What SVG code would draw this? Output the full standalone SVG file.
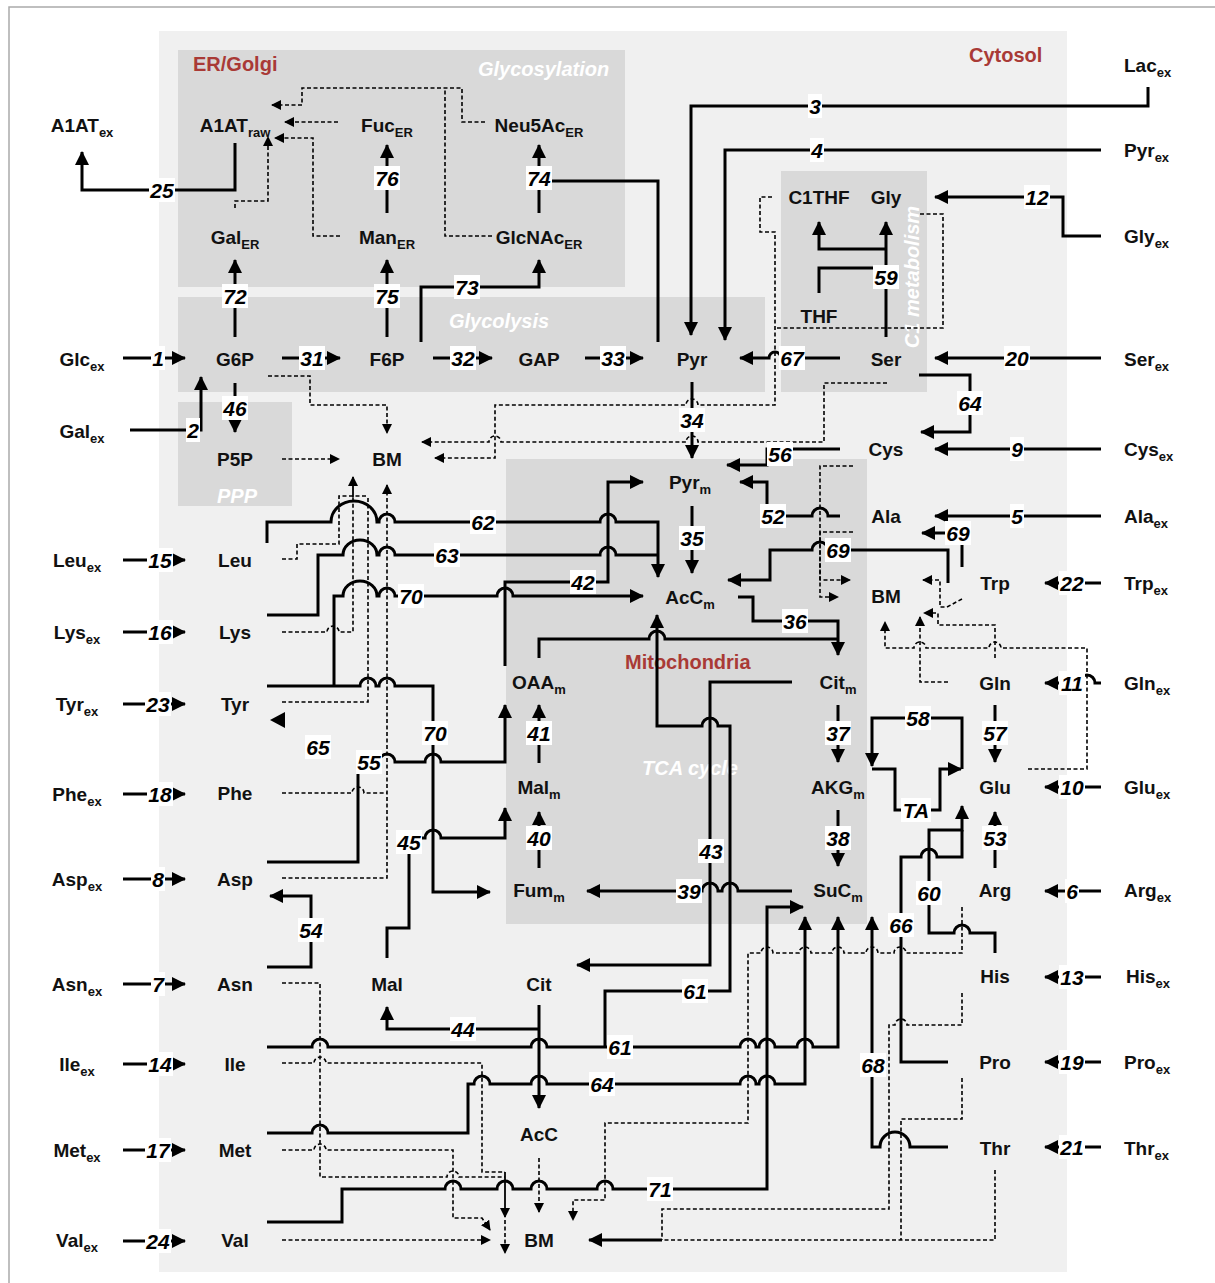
<svg xmlns="http://www.w3.org/2000/svg" width="1215" height="1283" viewBox="0 0 1215 1283">
<style>
.n{font-family:"Liberation Sans",Arial,sans-serif;font-weight:bold;font-size:19px;text-anchor:middle;fill:#111}
.r{text-anchor:start}
.s{font-size:13px}
.t{font-family:"Liberation Sans",Arial,sans-serif;font-weight:bold;font-style:italic;font-size:21px;text-anchor:middle;fill:#000}
.cm{font-family:"Liberation Sans",Arial,sans-serif;font-weight:bold;font-size:20px;fill:#a93a36}
.w{font-family:"Liberation Sans",Arial,sans-serif;font-weight:bold;font-style:italic;font-size:20px;fill:#fff}
.c{fill:none;stroke:#000;stroke-width:3}
.d{fill:none;stroke:#000;stroke-width:1.6;stroke-dasharray:4 2.5}
.th{fill:none;stroke:#000;stroke-width:1.8}
.lb rect{fill:#fff}
</style>
<defs>
<marker id="a" viewBox="0 0 14 14" refX="13" refY="7" markerWidth="14" markerHeight="14" markerUnits="userSpaceOnUse" orient="auto"><path d="M0,0 L14,7 L0,14 z" fill="#000"/></marker>
<marker id="b" viewBox="0 0 10 10" refX="9" refY="5" markerWidth="10" markerHeight="10" markerUnits="userSpaceOnUse" orient="auto"><path d="M0,0 L10,5 L0,10 z" fill="#000"/></marker>
</defs>
<rect x="0" y="0" width="1215" height="1283" fill="#fff"/>
<rect x="9" y="7" width="1230" height="1300" fill="none" stroke="#aaa" stroke-width="1.5"/>
<g id="compartments">
<rect x="159" y="31" width="908" height="1241" fill="#f0f0f0"/>
<rect x="178" y="50" width="447" height="237" fill="#d9d9d9"/>
<rect x="178" y="297" width="587" height="95" fill="#d9d9d9"/>
<rect x="178" y="402" width="114" height="104" fill="#d9d9d9"/>
<rect x="781" y="171" width="146" height="221" fill="#d9d9d9"/>
<rect x="506" y="459" width="361" height="465" fill="#d9d9d9"/>
<text class="cm" x="193" y="71">ER/Golgi</text>
<text class="cm" x="969" y="62">Cytosol</text>
<text class="cm" x="625" y="669">Mitochondria</text>
<text class="w" x="478" y="76">Glycosylation</text>
<text class="w" x="449" y="328">Glycolysis</text>
<text class="w" x="217" y="503">PPP</text>
<text class="w" x="642" y="775">TCA cycle</text>
<text class="w" x="0" y="0" text-anchor="middle" transform="translate(919 277) rotate(-90)">C1 metabolism</text>
</g>
<g id="connectors">
<!-- solid -->
<path class="c" marker-end="url(#a)" d="M123 358 H185"/>
<path class="c" marker-end="url(#a)" d="M130 430 H201 V377"/>
<path class="c" marker-end="url(#a)" d="M235 143 V190 H82 V152"/>
<path class="c" marker-end="url(#a)" d="M235 337 V260"/>
<path class="c" marker-end="url(#a)" d="M387 337 V260"/>
<path class="c" marker-end="url(#a)" d="M387 213 V145"/>
<path class="c" marker-end="url(#a)" d="M539 213 V145"/>
<path class="c" d="M658 342 V181 H539"/>
<path class="c" marker-end="url(#a)" d="M421 342 V287 H539 V260"/>
<path class="c" marker-end="url(#a)" d="M282 358 H340"/>
<path class="c" marker-end="url(#a)" d="M433 358 H492"/>
<path class="c" marker-end="url(#a)" d="M585 358 H643"/>
<path class="c" marker-end="url(#a)" d="M235 383 V432"/>
<path class="c" marker-end="url(#a)" d="M1148 87 V106 H691 V335"/>
<path class="c" marker-end="url(#a)" d="M1101 150 H725 V340"/>
<path class="c" marker-end="url(#a)" d="M1101 236 H1063 V197 H935"/>
<path class="c" marker-end="url(#a)" d="M886 337 V222"/>
<path class="c" marker-end="url(#a)" d="M886 249 H819 V222"/>
<path class="c" d="M819 293 V268 H886"/>
<path class="c" marker-end="url(#a)" d="M1101 358 H935"/>
<path class="c" marker-end="url(#a)" d="M840 358 H781 a6,6 0 0 0 -12,0 H740"/>
<path class="c" marker-end="url(#a)" d="M692 382 V458"/>
<path class="c" marker-end="url(#a)" d="M919 375 H970 V432 H921"/>
<path class="c" marker-end="url(#a)" d="M1101 449 H935"/>
<path class="c" marker-end="url(#a)" d="M840 449 H767 V465 H727"/>
<path class="c" marker-end="url(#a)" d="M840 516 H828 a8,8 0 0 0 -16,0 H767 V482 H740"/>
<path class="c" marker-end="url(#a)" d="M1101 516 H935"/>
<path class="c" marker-end="url(#a)" d="M962 567 V533 H922"/>
<path class="c" marker-end="url(#a)" d="M948 583 V550 H828 a8,8 0 0 0 -16,0 H770 V580 H728"/>
<path class="c" marker-end="url(#a)" d="M1101 583 H1045"/>
<path class="c" marker-end="url(#a)" d="M692 506 V573"/>
<path class="c" marker-end="url(#a)" d="M267 543 V522 H331 a23,21 0 0 1 46,0 H379 a8,8 0 0 1 16,0 H600 a8,8 0 0 1 16,0 H658 V577"/>
<path class="c" d="M267 615 H318 V555 H343 a17,15 0 0 1 34,0 H379 a8,8 0 0 1 16,0 H600 a8,8 0 0 1 16,0 H658"/>
<path class="c" marker-end="url(#a)" d="M267 686 H360 a8,8 0 0 1 16,0 H379 a8,8 0 0 1 16,0 H433 V892 H490"/>
<path class="c" marker-end="url(#a)" d="M334 686 V596 H343 a17,15 0 0 1 34,0 H379 a8,8 0 0 1 16,0 H497 a8,8 0 0 1 16,0 H643"/>
<path class="c" marker-end="url(#a)" d="M505 666 V582 H608 V482 H643"/>
<path class="c" marker-end="url(#a)" d="M738 597 H753 V621 H838 V655"/>
<path class="c" d="M539 658 V639 H649 a8,8 0 0 1 16,0 H838"/>
<path class="c" marker-end="url(#a)" d="M267 1047 H312 a8,8 0 0 1 16,0 H531 a8,8 0 0 1 16,0 H740 a8,8 0 0 1 16,0 H759 a8,8 0 0 1 16,0 H797 a8,8 0 0 1 16,0 H838 V917"/>
<path class="c" marker-end="url(#a)" d="M605 1047 V991 H730 V726 H718 a8,8 0 0 0 -16,0 H657 V615"/>
<path class="c" marker-end="url(#a)" d="M792 682 H710 V965 H577"/>
<path class="c" marker-end="url(#a)" d="M838 705 V762"/>
<path class="c" marker-end="url(#a)" d="M838 810 V866"/>
<path class="c" marker-end="url(#a)" d="M792 891 H738 a8,8 0 0 0 -16,0 H718 a8,8 0 0 0 -16,0 H587"/>
<path class="c" marker-end="url(#a)" d="M539 868 V812"/>
<path class="c" marker-end="url(#a)" d="M539 763 V705"/>
<path class="c" marker-end="url(#a)" d="M267 862 H358 V762 H379 a8,8 0 0 1 16,0 H425 a8,8 0 0 1 16,0 H505 V705"/>
<path class="c" marker-end="url(#a)" d="M387 958 V928 H409 V838 H425 a8,8 0 0 1 16,0 H505 V808"/>
<path class="c" marker-end="url(#a)" d="M267 967 H311 V896 H270"/>
<path class="c" marker-end="url(#a)" d="M539 1029 H387 V1007"/>
<path class="c" marker-end="url(#a)" d="M539 1005 V1108"/>
<path class="c" marker-end="url(#a)" d="M267 1133 H312 a8,8 0 0 1 16,0 H468 V1084 H474 a8,8 0 0 1 16,0 H531 a8,8 0 0 1 16,0 H740 a8,8 0 0 1 16,0 H759 a8,8 0 0 1 16,0 H805 V917"/>
<path class="c" marker-end="url(#a)" d="M267 1222 H342 V1189 H445 a8,8 0 0 1 16,0 H497 a8,8 0 0 1 16,0 H531 a8,8 0 0 1 16,0 H597 a8,8 0 0 1 16,0 H767 V907 H803"/>
<path class="c" marker-end="url(#a)" d="M948 1147 H910 a15,15 0 0 0 -30,0 H872 V917"/>
<path class="c" d="M948 1062 H901 V857 H921 a8,8 0 0 1 16,0 H962 V830"/>
<path class="c" marker-end="url(#a)" d="M995 953 V933 H970 a8,8 0 0 0 -16,0 H929 V830 H962 V806"/>
<path class="c" marker-end="url(#a)" d="M995 868 V812"/>
<path class="c" marker-end="url(#a)" d="M995 705 V762"/>
<path class="c" marker-end="url(#a)" d="M962 769 V718 H872 V766"/>
<path class="c" marker-end="url(#a)" d="M872 769 H895 V810 H940 V769 H961"/>
<path class="c" marker-end="url(#a)" d="M1101 787 H1045"/>
<path class="c" marker-end="url(#a)" d="M1101 683 H1095 a8,8 0 0 0 -16,0 H1045"/>
<path class="c" marker-end="url(#a)" d="M1101 891 H1045"/>
<path class="c" marker-end="url(#a)" d="M1101 977 H1045"/>
<path class="c" marker-end="url(#a)" d="M1101 1062 H1045"/>
<path class="c" marker-end="url(#a)" d="M1101 1147 H1045"/>
<path class="c" marker-end="url(#a)" d="M123 560 H185"/>
<path class="c" marker-end="url(#a)" d="M123 632 H185"/>
<path class="c" marker-end="url(#a)" d="M123 704 H185"/>
<path class="c" marker-end="url(#a)" d="M123 794 H185"/>
<path class="c" marker-end="url(#a)" d="M123 879 H185"/>
<path class="c" marker-end="url(#a)" d="M123 984 H185"/>
<path class="c" marker-end="url(#a)" d="M123 1064 H185"/>
<path class="c" marker-end="url(#a)" d="M123 1150 H185"/>
<path class="c" marker-end="url(#a)" d="M123 1241 H185"/>
<path d="M270 720 L285 712 L285 728 z" fill="#000"/>
<path class="c" marker-end="url(#a)" d="M662 1240 H589"/>
<!-- dashed -->
<path class="d" marker-end="url(#b)" d="M235 208 V201 H268 V137"/>
<path class="d" marker-end="url(#b)" d="M340 236 H313 V138 H275"/>
<path class="d" marker-end="url(#b)" d="M338 122 H285"/>
<path class="d" marker-end="url(#b)" d="M485 122 H462 V88 H302 V105 H272"/>
<path class="d" d="M492 236 H445 V88"/>
<path class="d" marker-end="url(#b)" d="M268 376 H310 V405 H387 V433"/>
<path class="d" marker-end="url(#b)" d="M282 459 H339"/>
<path class="d" marker-end="url(#b)" d="M772 197 H760 V232 H775 V405 H698 a6,6 0 0 0 -12,0 H495 V458 H435"/>
<path class="d" d="M920 214 H943 V328 H775"/>
<path class="d" marker-end="url(#b)" d="M887 383 H824 V442 H698 a6,6 0 0 0 -12,0 H501 a6,6 0 0 0 -12,0 H422"/>
<path class="d" d="M282 559 H297 V544 H339 V496 H368"/>
<path class="d" d="M282 632 H327 a6,6 0 0 1 12,0 H353 V496"/>
<path class="d" d="M282 702 H368 V496"/>
<path class="th" marker-end="url(#b)" d="M353 497 V477"/>
<path class="d" d="M282 793 H352 a6,6 0 0 1 12,0 H387"/>
<path class="d" marker-end="url(#b)" d="M282 878 H387 V485"/>
<path class="d" marker-end="url(#b)" d="M853 466 H820 V597 H838"/>
<path class="d" marker-end="url(#b)" d="M853 532 H820 V580 H850"/>
<path class="d" marker-end="url(#b)" d="M962 599 L947 607 H940 V580 H923"/>
<path class="d" marker-end="url(#b)" d="M948 682 H920 V617"/>
<path class="d" marker-end="url(#b)" d="M995 658 V625 H938 V613 H924"/>
<path class="d" marker-end="url(#b)" d="M1028 769 H1087 V648 H1001 a6,6 0 0 0 -12,0 H926 a6,6 0 0 0 -12,0 H885 V622"/>
<path class="d" marker-end="url(#b)" d="M962 907 V953 H906 a6,6 0 0 0 -12,0 H878 a6,6 0 0 0 -12,0 H844 a6,6 0 0 0 -12,0 H811 a6,6 0 0 0 -12,0 H773 a6,6 0 0 0 -12,0 H748 V1123 H605 V1200 H573 V1220"/>
<path class="d" d="M962 993 V1025 H907 a6,6 0 0 0 -12,0 H889 V1209 H662 V1240"/>
<path class="d" d="M962 1078 V1119 H901 V1240"/>
<path class="d" d="M995 1170 V1240 H662"/>
<path class="d" d="M282 983 H320 V1177 H447 a6,6 0 0 1 12,0 H505"/>
<path class="d" d="M282 1063 H314 a6,6 0 0 1 12,0 H482 V1172 H505"/>
<path class="d" marker-end="url(#b)" d="M282 1150 H314 a6,6 0 0 1 12,0 H453 V1218 H482 L490 1230"/>
<path class="d" marker-end="url(#b)" d="M282 1240 H490"/>
<path class="th" marker-end="url(#b)" d="M505 1172 V1217"/>
<path class="d" marker-end="url(#b)" d="M505 1220 V1253"/>
<path class="d" marker-end="url(#b)" d="M539 1158 V1212"/>
</g>
<g id="labels" class="lb">
<rect x="151" y="346" width="14" height="24"/><text class="t" x="158" y="366">1</text>
<rect x="186" y="418" width="14" height="24"/><text class="t" x="193" y="438">2</text>
<rect x="149" y="178" width="26" height="24"/><text class="t" x="162" y="198">25</text>
<rect x="222" y="284" width="26" height="24"/><text class="t" x="235" y="304">72</text>
<rect x="374" y="284" width="26" height="24"/><text class="t" x="387" y="304">75</text>
<rect x="374" y="166" width="26" height="24"/><text class="t" x="387" y="186">76</text>
<rect x="526" y="166" width="26" height="24"/><text class="t" x="539" y="186">74</text>
<rect x="454" y="275" width="26" height="24"/><text class="t" x="467" y="295">73</text>
<rect x="299" y="346" width="26" height="24"/><text class="t" x="312" y="366">31</text>
<rect x="450" y="346" width="26" height="24"/><text class="t" x="463" y="366">32</text>
<rect x="600" y="346" width="26" height="24"/><text class="t" x="613" y="366">33</text>
<rect x="222" y="396" width="26" height="24"/><text class="t" x="235" y="416">46</text>
<rect x="808" y="94" width="14" height="24"/><text class="t" x="815" y="114">3</text>
<rect x="810" y="138" width="14" height="24"/><text class="t" x="817" y="158">4</text>
<rect x="1024" y="185" width="26" height="24"/><text class="t" x="1037" y="205">12</text>
<rect x="873" y="265" width="26" height="24"/><text class="t" x="886" y="285">59</text>
<rect x="1004" y="346" width="26" height="24"/><text class="t" x="1017" y="366">20</text>
<rect x="779" y="346" width="26" height="24"/><text class="t" x="792" y="366">67</text>
<rect x="679" y="408" width="26" height="24"/><text class="t" x="692" y="428">34</text>
<rect x="957" y="391" width="26" height="24"/><text class="t" x="970" y="411">64</text>
<rect x="1010" y="437" width="14" height="24"/><text class="t" x="1017" y="457">9</text>
<rect x="767" y="442" width="26" height="24"/><text class="t" x="780" y="462">56</text>
<rect x="760" y="504" width="26" height="24"/><text class="t" x="773" y="524">52</text>
<rect x="1010" y="504" width="14" height="24"/><text class="t" x="1017" y="524">5</text>
<rect x="945" y="521" width="26" height="24"/><text class="t" x="958" y="541">69</text>
<rect x="825" y="538" width="26" height="24"/><text class="t" x="838" y="558">69</text>
<rect x="1059" y="571" width="26" height="24"/><text class="t" x="1072" y="591">22</text>
<rect x="679" y="526" width="26" height="24"/><text class="t" x="692" y="546">35</text>
<rect x="470" y="510" width="26" height="24"/><text class="t" x="483" y="530">62</text>
<rect x="434" y="543" width="26" height="24"/><text class="t" x="447" y="563">63</text>
<rect x="398" y="584" width="26" height="24"/><text class="t" x="411" y="604">70</text>
<rect x="422" y="721" width="26" height="24"/><text class="t" x="435" y="741">70</text>
<rect x="570" y="570" width="26" height="24"/><text class="t" x="583" y="590">42</text>
<rect x="782" y="609" width="26" height="24"/><text class="t" x="795" y="629">36</text>
<rect x="607" y="1035" width="26" height="24"/><text class="t" x="620" y="1055">61</text>
<rect x="682" y="979" width="26" height="24"/><text class="t" x="695" y="999">61</text>
<rect x="698" y="839" width="26" height="24"/><text class="t" x="711" y="859">43</text>
<rect x="825" y="721" width="26" height="24"/><text class="t" x="838" y="741">37</text>
<rect x="825" y="826" width="26" height="24"/><text class="t" x="838" y="846">38</text>
<rect x="676" y="879" width="26" height="24"/><text class="t" x="689" y="899">39</text>
<rect x="526" y="826" width="26" height="24"/><text class="t" x="539" y="846">40</text>
<rect x="526" y="721" width="26" height="24"/><text class="t" x="539" y="741">41</text>
<rect x="356" y="750" width="26" height="24"/><text class="t" x="369" y="770">55</text>
<rect x="396" y="830" width="26" height="24"/><text class="t" x="409" y="850">45</text>
<rect x="298" y="918" width="26" height="24"/><text class="t" x="311" y="938">54</text>
<rect x="450" y="1017" width="26" height="24"/><text class="t" x="463" y="1037">44</text>
<rect x="589" y="1072" width="26" height="24"/><text class="t" x="602" y="1092">64</text>
<rect x="647" y="1177" width="26" height="24"/><text class="t" x="660" y="1197">71</text>
<rect x="860" y="1053" width="26" height="24"/><text class="t" x="873" y="1073">68</text>
<rect x="888" y="913" width="26" height="24"/><text class="t" x="901" y="933">66</text>
<rect x="916" y="881" width="26" height="24"/><text class="t" x="929" y="901">60</text>
<rect x="982" y="826" width="26" height="24"/><text class="t" x="995" y="846">53</text>
<rect x="982" y="721" width="26" height="24"/><text class="t" x="995" y="741">57</text>
<rect x="905" y="706" width="26" height="24"/><text class="t" x="918" y="726">58</text>
<rect x="901" y="798" width="30" height="24"/><text class="t" x="916" y="818">TA</text>
<rect x="1059" y="775" width="26" height="24"/><text class="t" x="1072" y="795">10</text>
<rect x="1059" y="671" width="26" height="24"/><text class="t" x="1072" y="691">11</text>
<rect x="1065" y="879" width="14" height="24"/><text class="t" x="1072" y="899">6</text>
<rect x="1059" y="965" width="26" height="24"/><text class="t" x="1072" y="985">13</text>
<rect x="1059" y="1050" width="26" height="24"/><text class="t" x="1072" y="1070">19</text>
<rect x="1059" y="1135" width="26" height="24"/><text class="t" x="1072" y="1155">21</text>
<rect x="147" y="548" width="26" height="24"/><text class="t" x="160" y="568">15</text>
<rect x="147" y="620" width="26" height="24"/><text class="t" x="160" y="640">16</text>
<rect x="145" y="692" width="26" height="24"/><text class="t" x="158" y="712">23</text>
<rect x="147" y="782" width="26" height="24"/><text class="t" x="160" y="802">18</text>
<rect x="151" y="867" width="14" height="24"/><text class="t" x="158" y="887">8</text>
<rect x="151" y="972" width="14" height="24"/><text class="t" x="158" y="992">7</text>
<rect x="147" y="1052" width="26" height="24"/><text class="t" x="160" y="1072">14</text>
<rect x="145" y="1138" width="26" height="24"/><text class="t" x="158" y="1158">17</text>
<rect x="145" y="1229" width="26" height="24"/><text class="t" x="158" y="1249">24</text>
<rect x="305" y="735" width="26" height="24"/><text class="t" x="318" y="755">65</text>
</g>
<g id="A1ATex"><text class="n" x="82" y="132">A1AT<tspan class="s" dy="5">ex</tspan></text></g>
<g id="A1ATraw"><text class="n" x="235" y="132">A1AT<tspan class="s" dy="5">raw</tspan></text></g>
<g id="FucER"><text class="n" x="387" y="132">Fuc<tspan class="s" dy="5">ER</tspan></text></g>
<g id="Neu5AcER"><text class="n" x="539" y="132">Neu5Ac<tspan class="s" dy="5">ER</tspan></text></g>
<g id="GalER"><text class="n" x="235" y="244">Gal<tspan class="s" dy="5">ER</tspan></text></g>
<g id="ManER"><text class="n" x="387" y="244">Man<tspan class="s" dy="5">ER</tspan></text></g>
<g id="GlcNAcER"><text class="n" x="539" y="244">GlcNAc<tspan class="s" dy="5">ER</tspan></text></g>
<g id="G6P"><text class="n" x="235" y="366">G6P</text></g>
<g id="F6P"><text class="n" x="387" y="366">F6P</text></g>
<g id="GAP"><text class="n" x="539" y="366">GAP</text></g>
<g id="Pyr"><text class="n" x="692" y="366">Pyr</text></g>
<g id="Ser"><text class="n" x="886" y="366">Ser</text></g>
<g id="C1THF"><text class="n" x="819" y="204">C1THF</text></g>
<g id="Gly"><text class="n" x="886" y="204">Gly</text></g>
<g id="THF"><text class="n" x="819" y="323">THF</text></g>
<g id="Glcex"><text class="n" x="82" y="366">Glc<tspan class="s" dy="5">ex</tspan></text></g>
<g id="Galex"><text class="n" x="82" y="438">Gal<tspan class="s" dy="5">ex</tspan></text></g>
<g id="P5P"><text class="n" x="235" y="466">P5P</text></g>
<g id="BM1"><text class="n" x="387" y="466">BM</text></g>
<g id="Cys"><text class="n" x="886" y="456">Cys</text></g>
<g id="Pyrm"><text class="n" x="690" y="489">Pyr<tspan class="s" dy="5">m</tspan></text></g>
<g id="Ala"><text class="n" x="886" y="523">Ala</text></g>
<g id="AcCm"><text class="n" x="690" y="604">AcC<tspan class="s" dy="5">m</tspan></text></g>
<g id="BM2"><text class="n" x="886" y="603">BM</text></g>
<g id="Trp"><text class="n" x="995" y="590">Trp</text></g>
<g id="Leu"><text class="n" x="235" y="567">Leu</text></g>
<g id="Lys"><text class="n" x="235" y="639">Lys</text></g>
<g id="Tyr"><text class="n" x="235" y="711">Tyr</text></g>
<g id="Phe"><text class="n" x="235" y="800">Phe</text></g>
<g id="Asp"><text class="n" x="235" y="886">Asp</text></g>
<g id="Asn"><text class="n" x="235" y="991">Asn</text></g>
<g id="Ile"><text class="n" x="235" y="1071">Ile</text></g>
<g id="Met"><text class="n" x="235" y="1157">Met</text></g>
<g id="Val"><text class="n" x="235" y="1247">Val</text></g>
<g id="OAAm"><text class="n" x="539" y="689">OAA<tspan class="s" dy="5">m</tspan></text></g>
<g id="Malm"><text class="n" x="539" y="794">Mal<tspan class="s" dy="5">m</tspan></text></g>
<g id="Fumm"><text class="n" x="539" y="897">Fum<tspan class="s" dy="5">m</tspan></text></g>
<g id="Citm"><text class="n" x="838" y="689">Cit<tspan class="s" dy="5">m</tspan></text></g>
<g id="AKGm"><text class="n" x="838" y="794">AKG<tspan class="s" dy="5">m</tspan></text></g>
<g id="SuCm"><text class="n" x="838" y="897">SuC<tspan class="s" dy="5">m</tspan></text></g>
<g id="Gln"><text class="n" x="995" y="690">Gln</text></g>
<g id="Glu"><text class="n" x="995" y="794">Glu</text></g>
<g id="Arg"><text class="n" x="995" y="897">Arg</text></g>
<g id="His"><text class="n" x="995" y="983">His</text></g>
<g id="Pro"><text class="n" x="995" y="1069">Pro</text></g>
<g id="Thr"><text class="n" x="995" y="1155">Thr</text></g>
<g id="Mal"><text class="n" x="387" y="991">Mal</text></g>
<g id="Cit"><text class="n" x="539" y="991">Cit</text></g>
<g id="AcC"><text class="n" x="539" y="1141">AcC</text></g>
<g id="BM3"><text class="n" x="539" y="1247">BM</text></g>
<g id="Lacex"><text class="n r" x="1124" y="72">Lac<tspan class="s" dy="5">ex</tspan></text></g>
<g id="Pyrex"><text class="n r" x="1124" y="157">Pyr<tspan class="s" dy="5">ex</tspan></text></g>
<g id="Glyex"><text class="n r" x="1124" y="243">Gly<tspan class="s" dy="5">ex</tspan></text></g>
<g id="Serex"><text class="n r" x="1124" y="366">Ser<tspan class="s" dy="5">ex</tspan></text></g>
<g id="Cysex"><text class="n r" x="1124" y="456">Cys<tspan class="s" dy="5">ex</tspan></text></g>
<g id="Alaex"><text class="n r" x="1124" y="523">Ala<tspan class="s" dy="5">ex</tspan></text></g>
<g id="Trpex"><text class="n r" x="1124" y="590">Trp<tspan class="s" dy="5">ex</tspan></text></g>
<g id="Glnex"><text class="n r" x="1124" y="690">Gln<tspan class="s" dy="5">ex</tspan></text></g>
<g id="Gluex"><text class="n r" x="1124" y="794">Glu<tspan class="s" dy="5">ex</tspan></text></g>
<g id="Argex"><text class="n r" x="1124" y="897">Arg<tspan class="s" dy="5">ex</tspan></text></g>
<g id="Hisex"><text class="n r" x="1126" y="983">His<tspan class="s" dy="5">ex</tspan></text></g>
<g id="Proex"><text class="n r" x="1124" y="1069">Pro<tspan class="s" dy="5">ex</tspan></text></g>
<g id="Threx"><text class="n r" x="1124" y="1155">Thr<tspan class="s" dy="5">ex</tspan></text></g>
<g id="Leuex"><text class="n" x="77" y="567">Leu<tspan class="s" dy="5">ex</tspan></text></g>
<g id="Lysex"><text class="n" x="77" y="639">Lys<tspan class="s" dy="5">ex</tspan></text></g>
<g id="Tyrex"><text class="n" x="77" y="711">Tyr<tspan class="s" dy="5">ex</tspan></text></g>
<g id="Pheex"><text class="n" x="77" y="801">Phe<tspan class="s" dy="5">ex</tspan></text></g>
<g id="Aspex"><text class="n" x="77" y="886">Asp<tspan class="s" dy="5">ex</tspan></text></g>
<g id="Asnex"><text class="n" x="77" y="991">Asn<tspan class="s" dy="5">ex</tspan></text></g>
<g id="Ileex"><text class="n" x="77" y="1071">Ile<tspan class="s" dy="5">ex</tspan></text></g>
<g id="Metex"><text class="n" x="77" y="1157">Met<tspan class="s" dy="5">ex</tspan></text></g>
<g id="Valex"><text class="n" x="77" y="1247">Val<tspan class="s" dy="5">ex</tspan></text></g>
</svg>
